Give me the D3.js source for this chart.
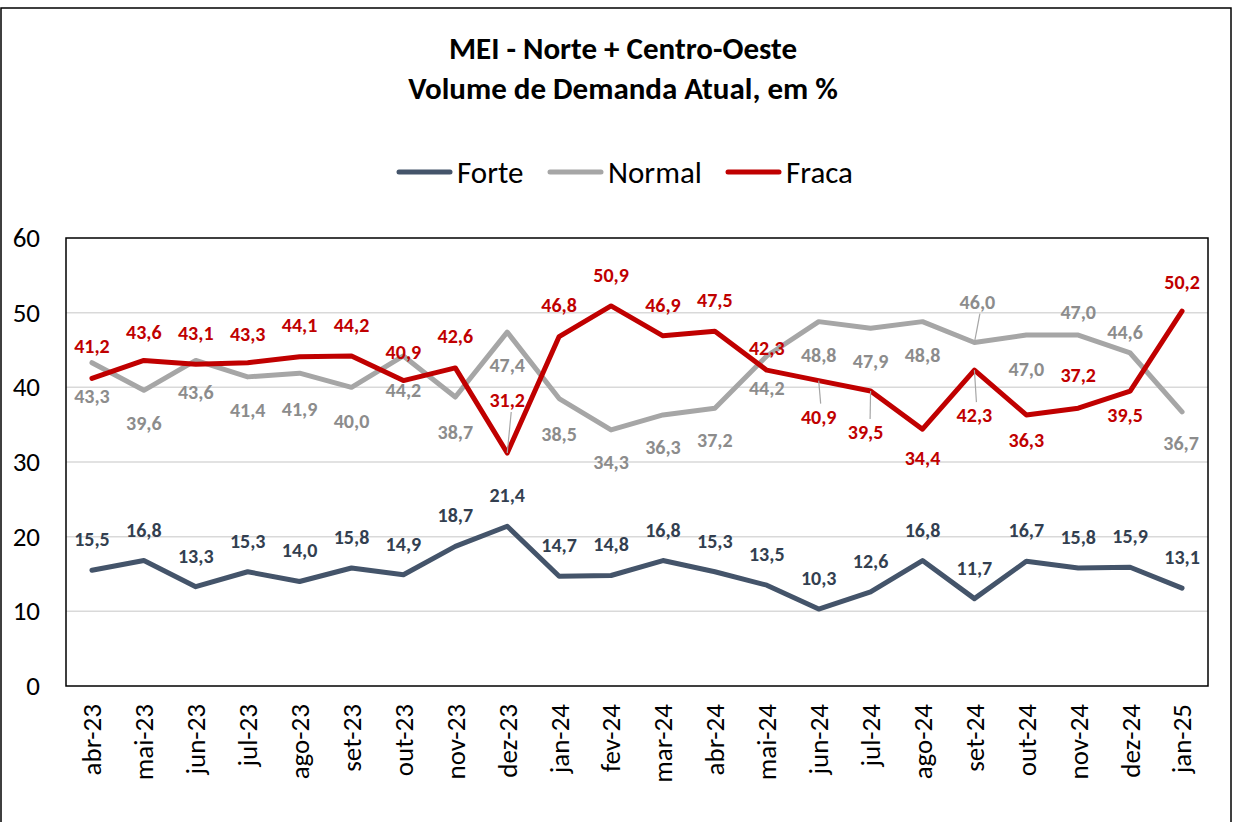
<!DOCTYPE html>
<html>
<head>
<meta charset="utf-8">
<script src="https://cdn.jsdelivr.net/npm/d3@7"></script>
<style>
  html, body { margin: 0; padding: 0; background: #fff; }
  svg { display: block; font-family: Carlito, Calibri, Lato, "Open Sans", sans-serif; }
</style>
</head>
<body>
<svg id="chart" width="1234" height="822"></svg>
<script>
// Months on the x axis
const months = ["abr-23","mai-23","jun-23","jul-23","ago-23","set-23","out-23","nov-23","dez-23",
  "jan-24","fev-24","mar-24","abr-24","mai-24","jun-24","jul-24","ago-24","set-24","out-24",
  "nov-24","dez-24","jan-25"];

// Share of answers (%) per demand level
const forte  = [15.5,16.8,13.3,15.3,14.0,15.8,14.9,18.7,21.4,14.7,14.8,16.8,15.3,13.5,10.3,12.6,16.8,11.7,16.7,15.8,15.9,13.1];
const normal = [43.3,39.6,43.6,41.4,41.9,40.0,44.2,38.7,47.4,38.5,34.3,36.3,37.2,44.2,48.8,47.9,48.8,46.0,47.0,47.0,44.6,36.7];
const fraca  = [41.2,43.6,43.1,43.3,44.1,44.2,40.9,42.6,31.2,46.8,50.9,46.9,47.5,42.3,40.9,39.5,34.4,42.3,36.3,37.2,39.5,50.2];

const seriesNames = ["Forte","Normal","Fraca"];
const yTicks = [0,10,20,30,40,50,60];

// Label placement (pixel offsets from each point; leader lines where the label sits far away)
const labelDy = {
  Forte:  forte.map(() => -31),
  Normal: [33,33,32,33,36,34,34,35,33,35,32,32,32,32,33,33,33,-41,34,-23,-21,31],
  Fraca:  [-32,-28,-31,-29,-32,-31,-29,-32,-53,-32,-31,-31,-31,-22,36,41,29,45,25,-33,24,-29]
};
const labelDx = {
  Forte:  forte.map(() => 0),
  Normal: [0,0,0,0,0,0,0,0,0,0,0,0,0,0,0,0,0,3,0,0,-5,-1],
  Fraca:  [0,0,0,0,0,0,0,0,0,0,0,0,0,0,0,-5,0,0,0,0,-5,0]
};
const leaders = {
  Normal: [17],
  Fraca: [8,14,15,17]
};

const colors = { Forte: "#44546A", Normal: "#A6A6A6", Fraca: "#C00000" };
const labelColors = { Forte: "#333F50", Normal: "#8C8C8C", Fraca: "#C00000" };

const svg = d3.select("#chart");
const W = 1234, H = 822;
const plot = { left: 66, right: 1208, top: 238, bottom: 686 };

// Outer frame
svg.append("rect").attr("x", 1).attr("y", 8).attr("width", W - 4).attr("height", H)
  .attr("fill", "none").attr("stroke", "#000").attr("stroke-width", 1.5);

const x = d3.scaleBand().domain(months).range([plot.left, plot.right]);
const cx = m => x(m) + x.bandwidth() / 2;
const y = d3.scaleLinear().domain([0, 60]).range([plot.bottom, plot.top]);

// Gridlines
svg.append("g").selectAll("line").data(yTicks.filter(t => t > 0 && t < 60)).join("line")
  .attr("x1", plot.left).attr("x2", plot.right)
  .attr("y1", d => y(d)).attr("y2", d => y(d))
  .attr("stroke", "#D9D9D9").attr("stroke-width", 1.5);

// Y axis labels
const yAxis = d3.axisLeft(y).tickValues(yTicks).tickSize(0).tickPadding(26).tickFormat(d3.format("d"));
const gy = svg.append("g").attr("transform", `translate(${plot.left},0)`).call(yAxis);
gy.select(".domain").remove();
gy.selectAll("text").attr("font-size", 27).attr("fill", "#000").attr("font-family", "Carlito, Calibri, Lato, sans-serif");

// X axis labels (rotated)
const xAxis = d3.axisBottom(x).tickSize(0).tickPadding(0);
const gx = svg.append("g").attr("transform", `translate(0,${plot.bottom})`).call(xAxis);
gx.select(".domain").remove();
gx.selectAll("text")
  .attr("font-size", 27).attr("fill", "#000").attr("font-family", "Carlito, Calibri, Lato, sans-serif")
  .attr("transform", "rotate(-90)")
  .attr("text-anchor", "end")
  .attr("x", -18).attr("y", 0).attr("dy", "0.35em");

// Plot area border
svg.append("rect").attr("x", plot.left).attr("y", plot.top)
  .attr("width", plot.right - plot.left).attr("height", plot.bottom - plot.top)
  .attr("fill", "none").attr("stroke", "#000").attr("stroke-width", 1.5);

const data = { Forte: forte, Normal: normal, Fraca: fraca };
const line = d3.line().x((d, i) => cx(months[i])).y(d => y(d));

// Draw order: Normal under, then Fraca, then Forte
["Normal","Fraca","Forte"].forEach(name => {
  svg.append("path").datum(data[name])
    .attr("d", line).attr("fill", "none")
    .attr("stroke", colors[name]).attr("stroke-width", 5)
    .attr("stroke-linejoin", "round").attr("stroke-linecap", "round");
});

const fmt = v => v.toFixed(1).replace(".", ",");

// Leader lines
Object.keys(leaders).forEach(name => {
  leaders[name].forEach(i => {
    const px = cx(months[i]), py = y(data[name][i]);
    const dy = labelDy[name][i], dx = labelDx[name][i];
    const ly = py + dy + (dy < 0 ? 12 : -13);
    svg.append("line")
      .attr("x1", px).attr("y1", py)
      .attr("x2", px + dx * 0.5 + (dy < 0 ? 4 : 2)).attr("y2", ly)
      .attr("stroke", "#A6A6A6").attr("stroke-width", 1.2);
  });
});

// Data labels
seriesNames.forEach(name => {
  svg.append("g").selectAll("text").data(data[name]).join("text")
    .attr("x", (d, i) => cx(months[i]) + labelDx[name][i])
    .attr("y", (d, i) => y(d) + labelDy[name][i])
    .attr("dy", "0.35em")
    .attr("text-anchor", "middle")
    .attr("font-size", 20).attr("font-weight", "bold")
    .attr("fill", labelColors[name])
    .text(fmt);
});

// Title
const title = svg.append("text").attr("x", 623).attr("text-anchor", "middle")
  .attr("font-size", 31).attr("font-weight", "bold").attr("fill", "#000");
title.append("tspan").attr("x", 623).attr("y", 59).text("MEI - Norte + Centro-Oeste");
title.append("tspan").attr("x", 623).attr("y", 99).text("Volume de Demanda Atual, em %");

// Legend
const legendItems = [
  { name: "Forte", x: 397 },
  { name: "Normal", x: 548 },
  { name: "Fraca", x: 726 }
];
const lg = svg.append("g");
legendItems.forEach(it => {
  lg.append("line").attr("x1", it.x + 2).attr("x2", it.x + 53).attr("y1", 172).attr("y2", 172)
    .attr("stroke", colors[it.name]).attr("stroke-width", 5).attr("stroke-linecap", "round");
  lg.append("text").attr("x", it.x + 60).attr("y", 172).attr("dy", "0.35em")
    .attr("font-size", 31).attr("fill", "#000").text(it.name);
});
</script>
</body>
</html>
